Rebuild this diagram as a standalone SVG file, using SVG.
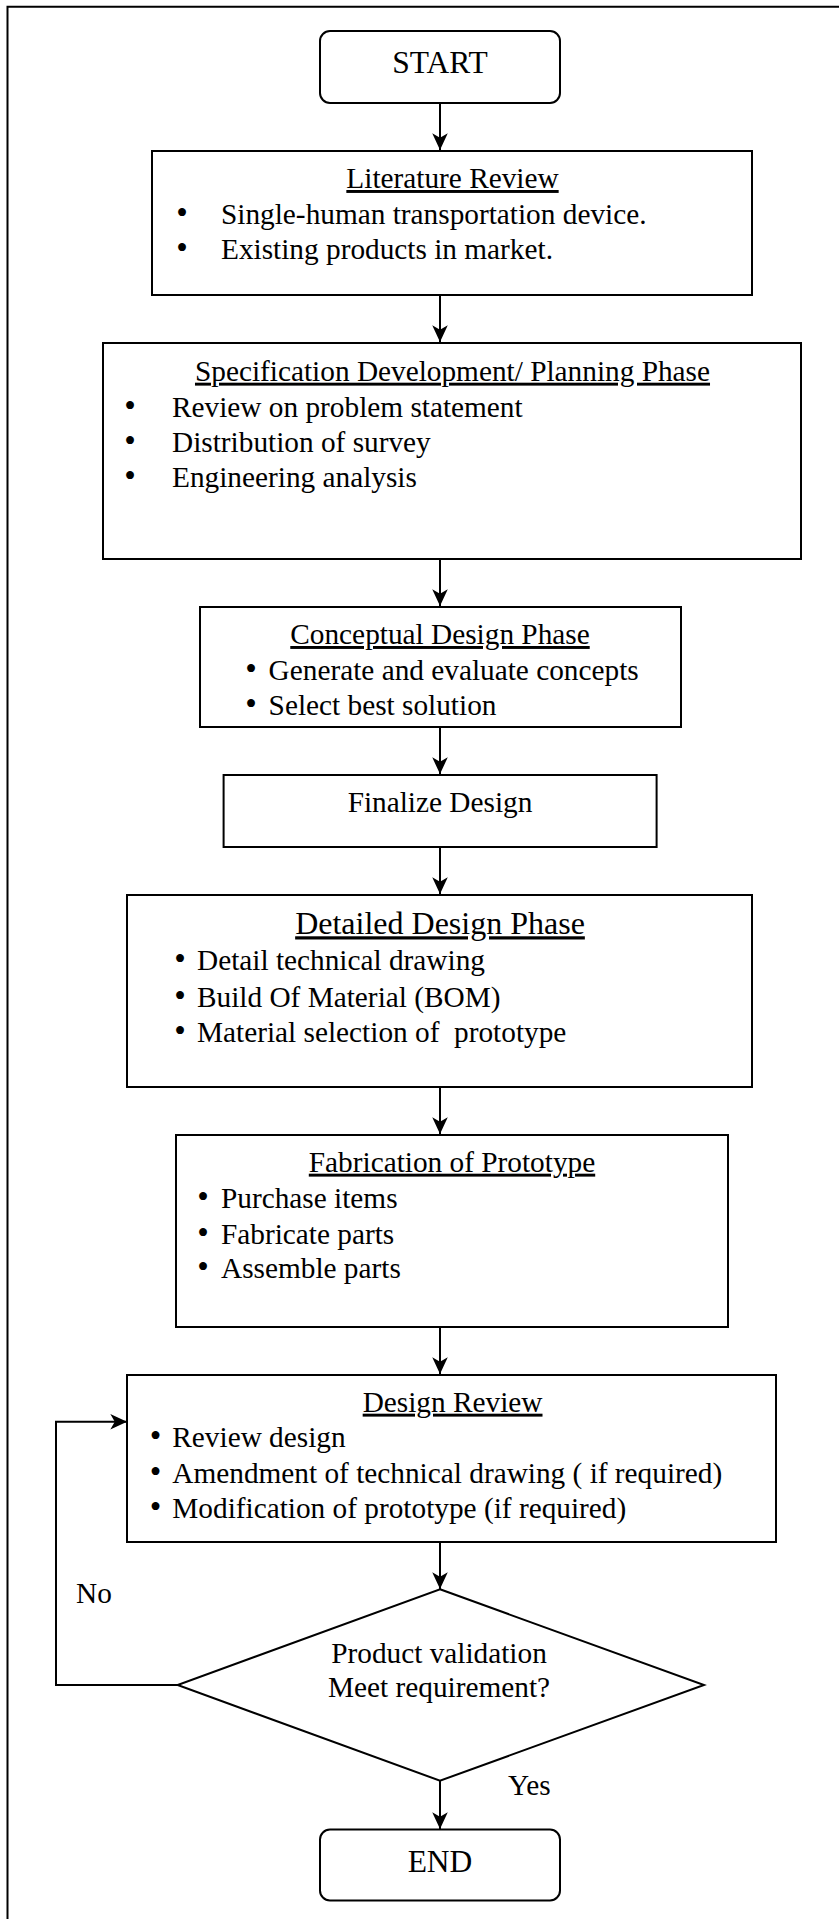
<svg xmlns="http://www.w3.org/2000/svg" width="839" height="1919" viewBox="0 0 839 1919">
<style>
  text { font-family: "Liberation Serif", "Times New Roman", serif; fill: #000; }
  .t { font-size: 29.3px; }
  .b { font-size: 33px; }
  .big { font-size: 31.5px; }
  .h { font-size: 29.3px; text-decoration: underline; }
  .h2 { font-size: 32px; text-decoration: underline; }
  .c { text-anchor: middle; }
  .box { fill: #fff; stroke: #000; stroke-width: 2; }
  .edge { fill: none; stroke: #000; stroke-width: 2; }
  .frame { fill: none; stroke: #000; stroke-width: 2; }
</style>
<defs>
  <marker id="arr" markerUnits="userSpaceOnUse" markerWidth="20" markerHeight="20" viewBox="-16 -8 18 16" refX="0" refY="0" orient="auto">
    <path d="M0,0 L-15,-7 L-11,0 L-15,7 Z" fill="#000"/>
  </marker>
</defs>
<rect width="839" height="1919" fill="#fff"/>
<path class="frame" d="M7.5,1919 L7.5,6.7 L839,6.7"/>

<g id="connectors">
  <line class="edge" x1="440" y1="103" x2="440" y2="150" marker-end="url(#arr)"/>
  <line class="edge" x1="440" y1="295" x2="440" y2="342" marker-end="url(#arr)"/>
  <line class="edge" x1="440" y1="559" x2="440" y2="606" marker-end="url(#arr)"/>
  <line class="edge" x1="440" y1="727" x2="440" y2="774" marker-end="url(#arr)"/>
  <line class="edge" x1="440" y1="847" x2="440" y2="894" marker-end="url(#arr)"/>
  <line class="edge" x1="440" y1="1087" x2="440" y2="1134" marker-end="url(#arr)"/>
  <line class="edge" x1="440" y1="1327" x2="440" y2="1374" marker-end="url(#arr)"/>
  <line class="edge" x1="440" y1="1542" x2="440" y2="1589" marker-end="url(#arr)"/>
  <line class="edge" x1="440" y1="1781" x2="440" y2="1829" marker-end="url(#arr)"/>
  <path class="edge" d="M177.6,1685 L56,1685 L56,1421.7 L127,1421.7" marker-end="url(#arr)"/>
  <text class="t" x="76" y="1603">No</text>
  <text class="t" x="508" y="1795">Yes</text>
</g>

<g id="start">
  <rect class="box" x="320" y="31" width="240" height="72" rx="10"/>
  <text class="big c" x="440" y="73">START</text>
</g>

<g id="literature">
  <rect class="box" x="152" y="151" width="600" height="144"/>
  <text class="h c" x="452.5" y="188">Literature Review</text>
  <text class="t" x="176.2" y="224"><tspan class="b">•</tspan><tspan x="221">Single-human transportation device.</tspan></text>
  <text class="t" x="176.2" y="258.5"><tspan class="b">•</tspan><tspan x="221">Existing products in market.</tspan></text>
</g>

<g id="specification">
  <rect class="box" x="103" y="343" width="698" height="216"/>
  <text class="h c" x="452.5" y="380.7">Specification Development/ Planning Phase</text>
  <text class="t" x="124.2" y="416.7"><tspan class="b">•</tspan><tspan x="172">Review on problem statement</tspan></text>
  <text class="t" x="124.2" y="452"><tspan class="b">•</tspan><tspan x="172">Distribution of survey</tspan></text>
  <text class="t" x="124.2" y="486.7"><tspan class="b">•</tspan><tspan x="172">Engineering analysis</tspan></text>
</g>

<g id="conceptual">
  <rect class="box" x="200" y="607" width="481" height="120"/>
  <text class="h c" x="440" y="644">Conceptual Design Phase</text>
  <text class="t" x="245.2" y="680"><tspan class="b">•</tspan><tspan x="268.6">Generate and evaluate concepts</tspan></text>
  <text class="t" x="245.2" y="715"><tspan class="b">•</tspan><tspan x="268.6">Select best solution</tspan></text>
</g>

<g id="finalize">
  <rect class="box" x="223.6" y="775" width="433" height="72"/>
  <text class="t c" x="440" y="811.7">Finalize Design</text>
</g>

<g id="detailed">
  <rect class="box" x="127" y="895" width="625" height="192"/>
  <text class="h2 c" x="440" y="934.3">Detailed Design Phase</text>
  <text class="t" x="174.2" y="970"><tspan class="b">•</tspan><tspan x="197">Detail technical drawing</tspan></text>
  <text class="t" x="174.2" y="1006.7"><tspan class="b">•</tspan><tspan x="197">Build Of Material (BOM)</tspan></text>
  <text class="t" x="174.2" y="1041.7" xml:space="preserve"><tspan class="b">•</tspan><tspan x="197">Material selection of  prototype</tspan></text>
</g>

<g id="fabrication">
  <rect class="box" x="176" y="1135" width="552" height="192"/>
  <text class="h c" x="452" y="1171.7">Fabrication of Prototype</text>
  <text class="t" x="197.2" y="1208.3"><tspan class="b">•</tspan><tspan x="221">Purchase items</tspan></text>
  <text class="t" x="197.2" y="1244"><tspan class="b">•</tspan><tspan x="221">Fabricate parts</tspan></text>
  <text class="t" x="197.2" y="1278.3"><tspan class="b">•</tspan><tspan x="221">Assemble parts</tspan></text>
</g>

<g id="review">
  <rect class="box" x="127" y="1375" width="649" height="167"/>
  <text class="h c" x="452.6" y="1411.7">Design Review</text>
  <text class="t" x="149.8" y="1446.7"><tspan class="b">•</tspan><tspan x="172.3">Review design</tspan></text>
  <text class="t" x="149.8" y="1483.3"><tspan class="b">•</tspan><tspan x="172.3">Amendment of technical drawing ( if required)</tspan></text>
  <text class="t" x="149.8" y="1518.3"><tspan class="b">•</tspan><tspan x="172.3">Modification of prototype (if required)</tspan></text>
</g>

<g id="validation">
  <polygon class="box" points="440,1589.3 704,1685 440,1780.7 177.6,1685"/>
  <text class="t c" x="439" y="1663.3">Product validation</text>
  <text class="t c" x="439" y="1696.7">Meet requirement?</text>
</g>

<g id="end">
  <rect class="box" x="320" y="1829.5" width="240" height="71" rx="10"/>
  <text class="big c" x="440" y="1871.7">END</text>
</g>
</svg>
